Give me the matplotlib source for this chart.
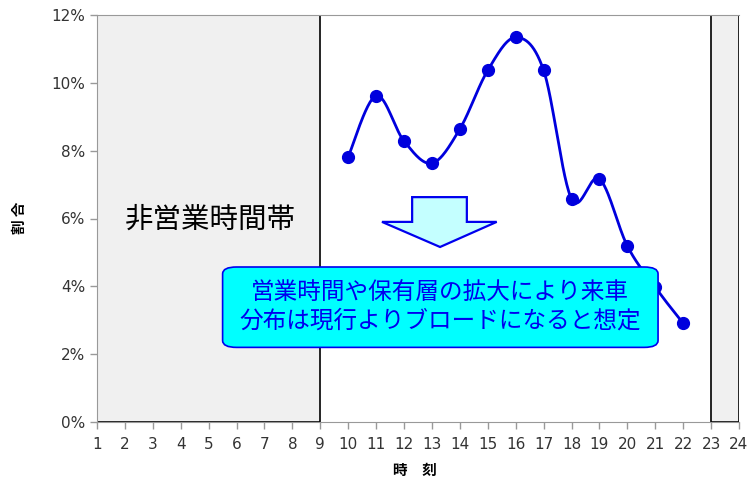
import numpy as np
import matplotlib
matplotlib.use("Agg")
import matplotlib.pyplot as plt
from matplotlib.patches import Rectangle, FancyBboxPatch, Polygon

plt.rcParams['font.family'] = ['DejaVu Sans', 'Noto Sans CJK JP']

# data
hours = [10, 11, 12, 13, 14, 15, 16, 17, 18, 19, 20, 21, 22]
share = [7.82, 9.62, 8.28, 7.63, 8.64, 10.37, 11.34, 10.37, 6.58, 7.17, 5.19, 3.97, 2.91]
closed_spans = [(1, 9), (23, 24)]
x_ticks = list(range(1, 25))
y_ticks = [0, 2, 4, 6, 8, 10, 12]
closed_label = "非営業時間帯"
note = "営業時間や保有層の拡大により来車\n分布は現行よりブロードになると想定"


def smooth(xs, ys, n=30):
    # bezier smoothing like the spreadsheet "smoothed line"
    p = np.column_stack([xs, ys]).astype(float)
    pts = []
    for i in range(len(p) - 1):
        p0 = p[i - 1] if i > 0 else p[i]
        p1, p2 = p[i], p[i + 1]
        p3 = p[i + 2] if i + 2 < len(p) else p[i + 1]
        c1 = p1 + (p2 - p0) / 6
        c2 = p2 - (p3 - p1) / 6
        t = np.linspace(0, 1, n)[:, None]
        seg = (1 - t) ** 3 * p1 + 3 * (1 - t) ** 2 * t * c1 + 3 * (1 - t) * t ** 2 * c2 + t ** 3 * p2
        pts.append(seg)
    out = np.vstack(pts)
    return out[:, 0], out[:, 1]


fig = plt.figure(figsize=(7.49, 4.79), dpi=100)
ax = fig.add_axes([97 / 749, 57 / 479, 642 / 749, 407 / 479])

for a, b in closed_spans:
    ax.add_patch(Rectangle((a, 0), b - a, 12, facecolor="#f0f0f0", edgecolor="black", lw=1.2, zorder=1))

sx, sy = smooth(hours, share)
ax.plot(sx, sy, color="#0000dd", lw=2, zorder=3)
ax.plot(hours, share, "o", color="#0000dd", ms=8.5, zorder=4)

ax.text(5.05, 5.96, closed_label, ha="center", va="center", fontsize=20.5, family=['Noto Sans CJK JP'], zorder=5)

# down arrow
arrow = Polygon([(12.29, 6.63), (14.25, 6.63), (14.25, 5.90), (15.32, 5.90), (13.29, 5.16),
                 (11.21, 5.90), (12.29, 5.90)], closed=True,
                facecolor="#c4ffff", edgecolor="#0000ee", lw=1.6, zorder=5)
ax.add_patch(arrow)

box = FancyBboxPatch((5.5, 2.2), 15.6, 2.37, boxstyle="round,pad=0,rounding_size=0.5",
                     mutation_aspect=0.4, facecolor="#00ffff", edgecolor="#0000ee", lw=1.2, zorder=6)
ax.add_patch(box)
ax.text(13.3, 3.4, note, ha="center", va="center", fontsize=17, color="#0000ee",
        family=['Noto Sans CJK JP'], linespacing=1.3, zorder=7)

ax.set_xlim(1, 24)
ax.set_ylim(0, 12)
ax.set_xticks(x_ticks)
ax.set_yticks(y_ticks)
ax.set_yticklabels([f"{v}%" for v in y_ticks])
for s in ["right"]:
    ax.spines[s].set_visible(False)
for s in ["left", "bottom", "top"]:
    ax.spines[s].set_color("#999999")
ax.tick_params(colors="#999999", labelcolor="#333333", labelsize=11, length=5, width=1)
ax.tick_params(axis="x", pad=6)

fig.text(19 / 749, 1 - 218 / 479, "割 合", rotation=90, ha="center", va="center",
         fontsize=10.5, fontweight="bold", family=['Noto Sans CJK JP'])
fig.text(415 / 749, 1 - 470 / 479, "時　刻", ha="center", va="center",
         fontsize=10.5, fontweight="bold", family=['Noto Sans CJK JP'])

fig.savefig("out.png", dpi=100)
